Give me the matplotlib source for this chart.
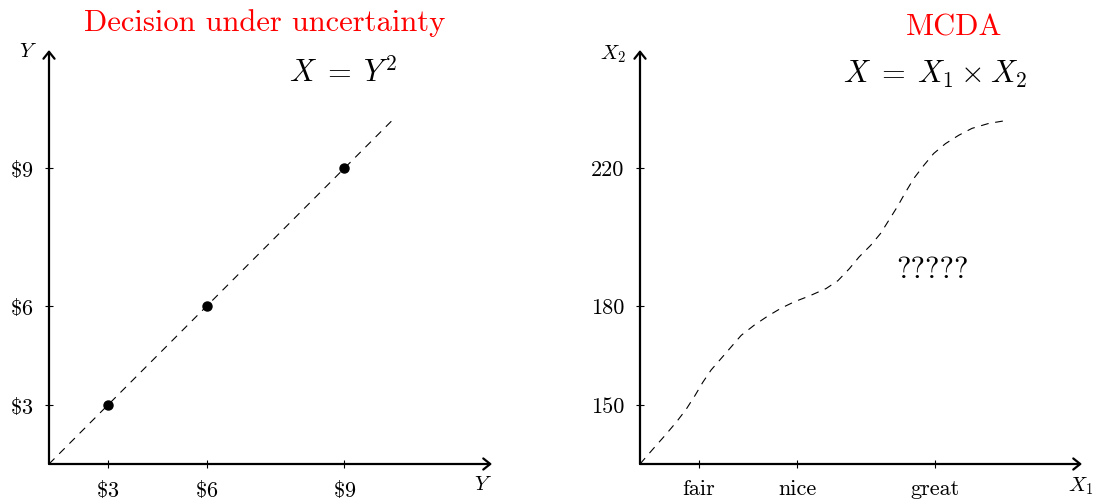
import matplotlib
matplotlib.use("Agg")
import matplotlib.pyplot as plt

plt.rcParams["font.family"] = "cmr10"
plt.rcParams["mathtext.fontset"] = "cm"
plt.rcParams["axes.unicode_minus"] = False
plt.rcParams["axes.formatter.use_mathtext"] = True

# left panel: decision under uncertainty
money_pos = [1.2, 3.2, 6.0]
money_labels = [r"$\$3$", r"$\$6$", r"$\$9$"]
diag_x = [0.0, 7.0]
diag_y = [0.0, 7.0]

# right panel: MCDA
quality_pos = [1.2, 3.2, 6.0]
quality_labels = ["fair", "nice", "great"]
price_pos = [1.2, 3.2, 6.0]
price_labels = ["150", "180", "220"]
curve_x = [0.0, 0.27, 0.51, 0.74, 0.94, 1.12, 1.28, 1.45, 1.66, 1.86, 2.06, 2.33,
           2.60, 2.87, 3.14, 3.45, 3.79, 4.03, 4.26, 4.46, 4.70, 4.90, 5.07, 5.24,
           5.41, 5.58, 5.78, 5.98, 6.22, 6.49, 6.76, 7.10, 7.40, 7.47]
curve_y = [0.0, 0.31, 0.58, 0.85, 1.11, 1.39, 1.66, 1.91, 2.15, 2.38, 2.61, 2.82,
           3.00, 3.16, 3.29, 3.41, 3.56, 3.72, 3.96, 4.20, 4.44, 4.68, 4.95, 5.22,
           5.52, 5.80, 6.06, 6.30, 6.50, 6.67, 6.81, 6.91, 6.96, 6.97]

W, H = 1112, 503
fig = plt.figure(figsize=(W / 100, H / 100), dpi=100)
ax1 = fig.add_axes([49 / W, 39 / H, 443 / W, 414 / H])
ax2 = fig.add_axes([640 / W, 39 / H, 442 / W, 414 / H])

XMAX, YMAX = 9.0, 8.4
arrow = dict(arrowstyle="->,head_length=0.5,head_width=0.4", lw=1.6, color="k",
             shrinkA=0, shrinkB=0)


def setup(ax, xpos, xlab, ypos, ylab):
    ax.set_xlim(0, XMAX)
    ax.set_ylim(0, YMAX)
    for s in ax.spines.values():
        s.set_visible(False)
    ax.patch.set_visible(False)
    ax.annotate("", xy=(XMAX, 0), xytext=(0, 0), arrowprops=arrow, annotation_clip=False)
    ax.annotate("", xy=(0, YMAX), xytext=(0, 0), arrowprops=arrow, annotation_clip=False)
    ax.set_xticks(xpos, xlab)
    ax.set_yticks(ypos, ylab)
    ax.tick_params(direction="inout", length=6, width=0.8, labelsize=16)
    ax.tick_params(axis="x", pad=8)
    ax.tick_params(axis="y", pad=8.5)


setup(ax1, money_pos, money_labels, money_pos, money_labels)
ax1.plot(diag_x, diag_y, color="k", lw=0.8, linestyle=(0, (7, 6)))
ax1.plot(money_pos, money_pos, "o", color="k", markersize=6.5)
ax1.text(4.38, 8.78, "Decision under uncertainty", color="red", fontsize=22,
         ha="center", va="baseline", clip_on=False)
ax1.text(5.98, 7.75, r"$X\;=\;Y^2$", fontsize=22, ha="center", va="baseline")
ax1.text(-0.43, 8.26, r"$Y$", fontsize=15, ha="center", va="baseline", clip_on=False)
ax1.text(8.82, -0.53, r"$Y$", fontsize=15, ha="center", va="baseline", clip_on=False)

setup(ax2, quality_pos, quality_labels, price_pos, price_labels)
ax2.plot(curve_x, curve_y, color="k", lw=0.8, linestyle=(0, (7, 6)),
         solid_joinstyle="round", dash_joinstyle="round")
ax2.text(6.39, 8.70, "MCDA", color="red", fontsize=22,
         ha="center", va="baseline", clip_on=False)
ax2.text(6.0, 7.73, r"$X\;=\;X_1 \times X_2$", fontsize=22, ha="center", va="baseline")
ax2.text(5.96, 3.77, "?????", fontsize=22, ha="center", va="baseline")
ax2.text(-0.55, 8.2, r"$X_2$", fontsize=15, ha="center", va="baseline", clip_on=False)
ax2.text(8.97, -0.55, r"$X_1$", fontsize=15, ha="center", va="baseline", clip_on=False)

fig.savefig("out.png", dpi=100)
